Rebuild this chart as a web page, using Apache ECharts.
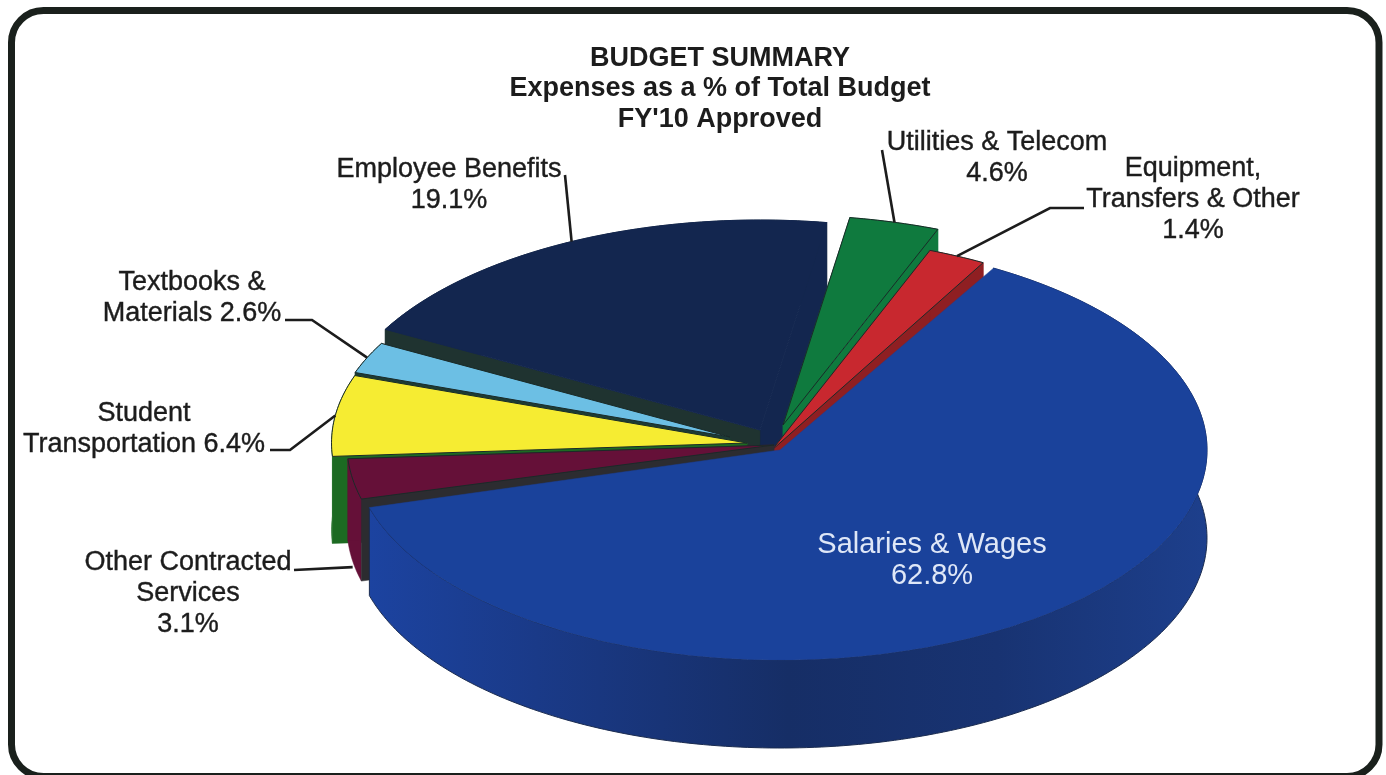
<!DOCTYPE html>
<html><head><meta charset="utf-8">
<style>html,body{margin:0;padding:0;background:#fff}#c{width:1386px;height:775px}</style>
<script src="https://cdn.jsdelivr.net/npm/echarts@6/dist/echarts.min.js"></script>
</head><body><div id="c"></div>
<script>
// ---- data ----
const categories = ['Salaries & Wages','Other Contracted Services','Student Transportation','Textbooks & Materials','Employee Benefits','Utilities & Telecom','Equipment, Transfers & Other'];
const percentages = [62.8,3.1,6.4,2.6,19.1,4.6,1.4];
const labelLines = [
  ['Salaries & Wages','{v}%'],
  ['Other Contracted','Services','{v}%'],
  ['Student','Transportation {v}%'],
  ['Textbooks &','Materials {v}%'],
  ['Employee Benefits','{v}%'],
  ['Utilities & Telecom','{v}%'],
  ['Equipment,','Transfers & Other','{v}%']
];
const titleLines = ['BUDGET SUMMARY','Expenses as a % of Total Budget',"FY'10 Approved"];

// ---- drawing settings (projection of the tilted pie) ----
const RX=427, RY=210, CX=780, CY=450, START=-61;
const pull   = [[0,0],[-6,-5],[-33,-7],[-50,-13],[-20,-20],[3,-25],[-8,0]];
const scale  = [1,1,0.973,0.93,1,1,1.02];
const depth  = [88,82,87,84,84,84,84];
const pad    = [[1,-1],[0,0],[0,0],[0,0],[0,1.6],[1.6,-2.7],[-2.7,0]];
const topCol = ['#1a429b','#651038','#f6ec32','#6cbfe4','#13264f','#0f7a3e','#c8282f'];
const topLine= ['#1a3f94','#1a2a28','#1a2a28','#1a2a28','#13264f','#1a2a28','#1a2a28'];
const wallCol= [null,'#651038','#1c6a22','#1d3b35','#1f2f35','#0f7a3e','#8f1f22'];
const startCut=[null,'#2c2c30','#1c6a22','#1d3b35','#1f3330','#0f7a3e','#8f1f22'];
const endCut = [null,'#651038','#1c6a22','#1d3b35','#13264f','#0f7a3e','#8f1f22'];
const drawOrder=[4,5,6,3,2,1,0];
const blueWall={type:'linear',x:0,y:0,x2:1,y2:0,colorStops:[
 {offset:0,color:'#1c43a0'},{offset:0.2,color:'#1a3a88'},{offset:0.5,color:'#162e66'},{offset:0.75,color:'#183372'},{offset:1,color:'#1d3f8c'}]};
const labelPos=[[932,560],[188,594],[144,429],[192,298],[449,185],[997,158],[1193,200]];
const elbows=[null,[[294,570]],[[270,450],[290,450]],[[285,320],[312,320]],[[565,175]],[[882,150]],[[1084,208],[1050,208]]];
const anchorDrop=[0,88,0,0,0,0,0];
const FONT='"Liberation Sans",Arial,sans-serif';

const bounds=[];let acc=START;
percentages.forEach((v,i)=>{const sw=v/100*360;bounds.push([acc+pad[i][0],acc+sw+pad[i][1]]);acc+=sw;});
function pt(i,t){const r=t*Math.PI/180,s=scale[i];
  return [CX+pull[i][0]+s*RX*Math.cos(r),CY+pull[i][1]+s*RY*Math.sin(r)];}
function apex(i){return [CX+pull[i][0],CY+pull[i][1]];}
function arc(i){const a=[],[t1,t2]=bounds[i];const n=Math.max(2,Math.ceil(t2-t1));
  for(let k=0;k<=n;k++)a.push(pt(i,t1+(t2-t1)*k/n));return a;}
const down=(p,d)=>[p[0],p[1]+d];
const poly=(points,fill,stroke,lw)=>({type:'polygon',shape:{points},style:{fill,stroke:stroke||fill,lineWidth:lw==null?0.5:lw}});

function renderSlice(params,api){
  const i=api.value(0),A=apex(i),a=arc(i),d=depth[i];
  const ch=[];
  const f=a[0],l=a[a.length-1];
  ch.push(poly(a.concat(a.slice().reverse().map(p=>down(p,d))),wallCol[i]||blueWall,i===0?'#1b2c50':null,i===0?1:0.5));
  if(endCut[i])ch.push(poly([A,l,down(l,d),down(A,d)],endCut[i]));
  if(startCut[i])ch.push(poly([A,f,down(f,d),down(A,d)],startCut[i]));
  ch.push(poly([A].concat(a),topCol[i],topLine[i],i===0?0.5:1));
  return {type:'group',children:ch};
}
function renderLabel(params,api){
  const i=api.value(0),lines=labelLines[i].map(s=>s.replace('{v}',percentages[i].toFixed(1))).join('\n');
  const ch=[];
  if(elbows[i]){
    const [t1,t2]=[bounds[i][0],bounds[i][1]];
    const end=down(pt(i,(t1+t2)/2),anchorDrop[i]);
    ch.push({type:'polyline',shape:{points:elbows[i].concat([end])},style:{fill:null,stroke:'#1c1c1c',lineWidth:2.6}});
  }
  ch.push({type:'text',x:labelPos[i][0],y:labelPos[i][1],style:{text:lines,align:'center',verticalAlign:'middle',
    font:(i===0?'29px ':'27px ')+FONT,lineHeight:31,fill:i===0?'#dfe7f7':'#1c1c1c',
    stroke:i===0?null:'#1c1c1c',lineWidth:i===0?0:0.4}});
  return {type:'group',children:ch};
}
const chart=echarts.init(document.getElementById('c'),null,{renderer:'canvas'});
chart.setOption({
  animation:false,
  title:{text:titleLines.join('\n'),left:715,top:38,textAlign:'center',
    textStyle:{fontFamily:FONT,fontSize:27,fontWeight:'bold',color:'#1c1c1c',lineHeight:30.5}},
  graphic:[{type:'rect',z:-1,shape:{x:11.5,y:10.5,width:1367.5,height:766,r:32},style:{fill:'#fff',stroke:'#1a201c',lineWidth:7}}],
  series:[
   {type:'custom',coordinateSystem:'none',renderItem:renderSlice,silent:true,z:2,data:drawOrder.map(i=>[i,percentages[i]])},
   {type:'custom',coordinateSystem:'none',renderItem:renderLabel,silent:true,z:3,data:categories.map((c,i)=>({name:c,value:[i,percentages[i]]}))}
  ]
});
</script></body></html>
